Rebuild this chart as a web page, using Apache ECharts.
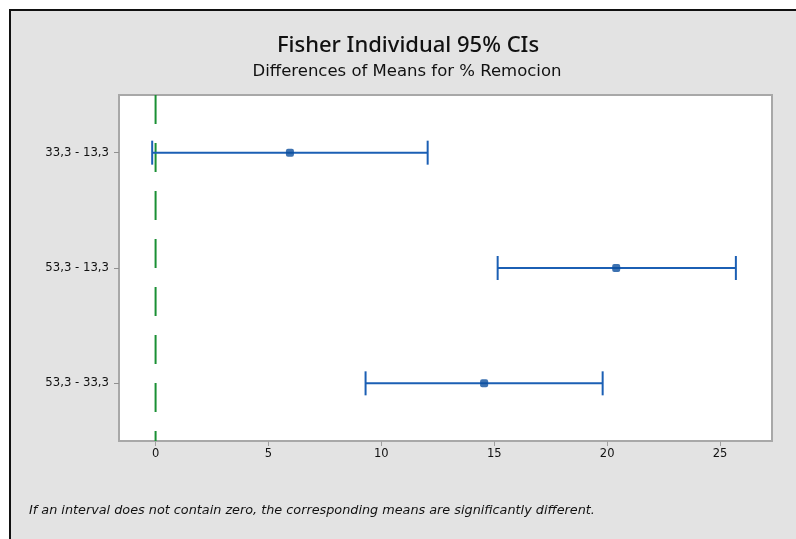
<!DOCTYPE html>
<html>
<head>
<meta charset="utf-8">
<script src="https://cdn.jsdelivr.net/npm/echarts@6/dist/echarts.min.js"></script>
<style>
  html, body { margin: 0; padding: 0; background: #ffffff; }
  #chart { width: 796px; height: 539px; }
</style>
</head>
<body>
<div id="chart"></div>
<script>
// Pairwise differences of means (Fisher LSD, 95% individual intervals)
const comparisons = ['33,3 - 13,3', '53,3 - 13,3', '53,3 - 33,3'];
const lowerBounds = [-0.15, 15.15, 9.3];
const meanDiffs   = [5.95, 20.4, 14.55];
const upperBounds = [12.05, 25.7, 19.8];
const xTicks = [0, 5, 10, 15, 20, 25];
const zeroRef = [0];

const FONT = '"Noto Sans", "Open Sans", sans-serif';
const WIDE = '"DejaVu Sans", sans-serif';
const BLUE = '#1b5fb4';

const chart = echarts.init(document.getElementById('chart'), null, { renderer: 'canvas' });

const intervalData = comparisons.map((c, i) => [lowerBounds[i], upperBounds[i], i]);

chart.setOption({
  backgroundColor: '#ffffff',
  animation: false,
  graphic: [
    { type: 'rect', z: -10, shape: { x: 10, y: 10, width: 800, height: 540 },
      style: { fill: '#e3e3e3', stroke: '#111111', lineWidth: 2 } },
    { type: 'text', x: 408, y: 35, z: 5,
      style: { text: 'Fisher Individual 95% CIs', font: '500 22px ' + FONT, fill: '#111111', align: 'center' } },
    { type: 'text', x: 407, y: 63, z: 5,
      style: { text: 'Differences of Means for % Remocion', font: '16.5px ' + WIDE, fill: '#111111', align: 'center' } },
    { type: 'text', left: 29, top: 504, z: 5,
      style: { text: 'If an interval does not contain zero, the corresponding means are significantly different.',
               font: 'oblique 12.8px ' + WIDE, fill: '#111111' } }
  ],
  grid: {
    left: 119, right: 24, top: 95, bottom: 98,
    show: true, backgroundColor: '#ffffff', borderColor: '#a8a8a8', borderWidth: 2
  },
  xAxis: {
    type: 'value', min: -1.62, max: 27.3,
    axisLine: { show: false, onZero: false },
    splitLine: { show: false },
    axisTick: { show: true, length: 5, inside: false, customValues: xTicks,
                lineStyle: { color: '#a0a0a0', width: 1 } },
    axisLabel: { customValues: xTicks, fontFamily: WIDE, fontSize: 11.5, color: '#111111', margin: 7 }
  },
  yAxis: {
    type: 'category', data: comparisons, inverse: true, boundaryGap: true,
    axisLine: { show: false, onZero: false },
    axisTick: { show: true, alignWithLabel: true, length: 5, lineStyle: { color: '#909090', width: 1 } },
    axisLabel: { fontFamily: WIDE, fontSize: 11.7, color: '#111111', margin: 10 }
  },
  series: [
    {
      // dashed reference line at zero
      type: 'custom', z: 2, silent: true,
      data: zeroRef.map(v => [v]),
      renderItem: function (params, api) {
        const cs = params.coordSys;
        const x = api.coord([api.value(0), 0])[0];
        return {
          type: 'line',
          shape: { x1: x, y1: cs.y, x2: x, y2: cs.y + cs.height },
          style: { stroke: '#1a9034', lineWidth: 2, lineDash: [29, 19] }
        };
      }
    },
    {
      // confidence interval bars with end caps
      type: 'custom', z: 3, silent: true,
      data: intervalData,
      renderItem: function (params, api) {
        const lo = api.coord([api.value(0), api.value(2)]);
        const hi = api.coord([api.value(1), api.value(2)]);
        const cap = 12;
        const st = { stroke: BLUE, lineWidth: 2 };
        return {
          type: 'group',
          children: [
            { type: 'line', shape: { x1: lo[0], y1: lo[1], x2: hi[0], y2: hi[1] }, style: st },
            { type: 'line', shape: { x1: lo[0], y1: lo[1] - cap, x2: lo[0], y2: lo[1] + cap }, style: st },
            { type: 'line', shape: { x1: hi[0], y1: hi[1] - cap, x2: hi[0], y2: hi[1] + cap }, style: st }
          ]
        };
      }
    },
    {
      type: 'scatter', z: 4, silent: true,
      symbol: 'roundRect', symbolSize: 8,
      itemStyle: { color: '#0d4f9e' },
      data: meanDiffs.map((v, i) => [v, i])
    }
  ]
});
</script>
</body>
</html>
